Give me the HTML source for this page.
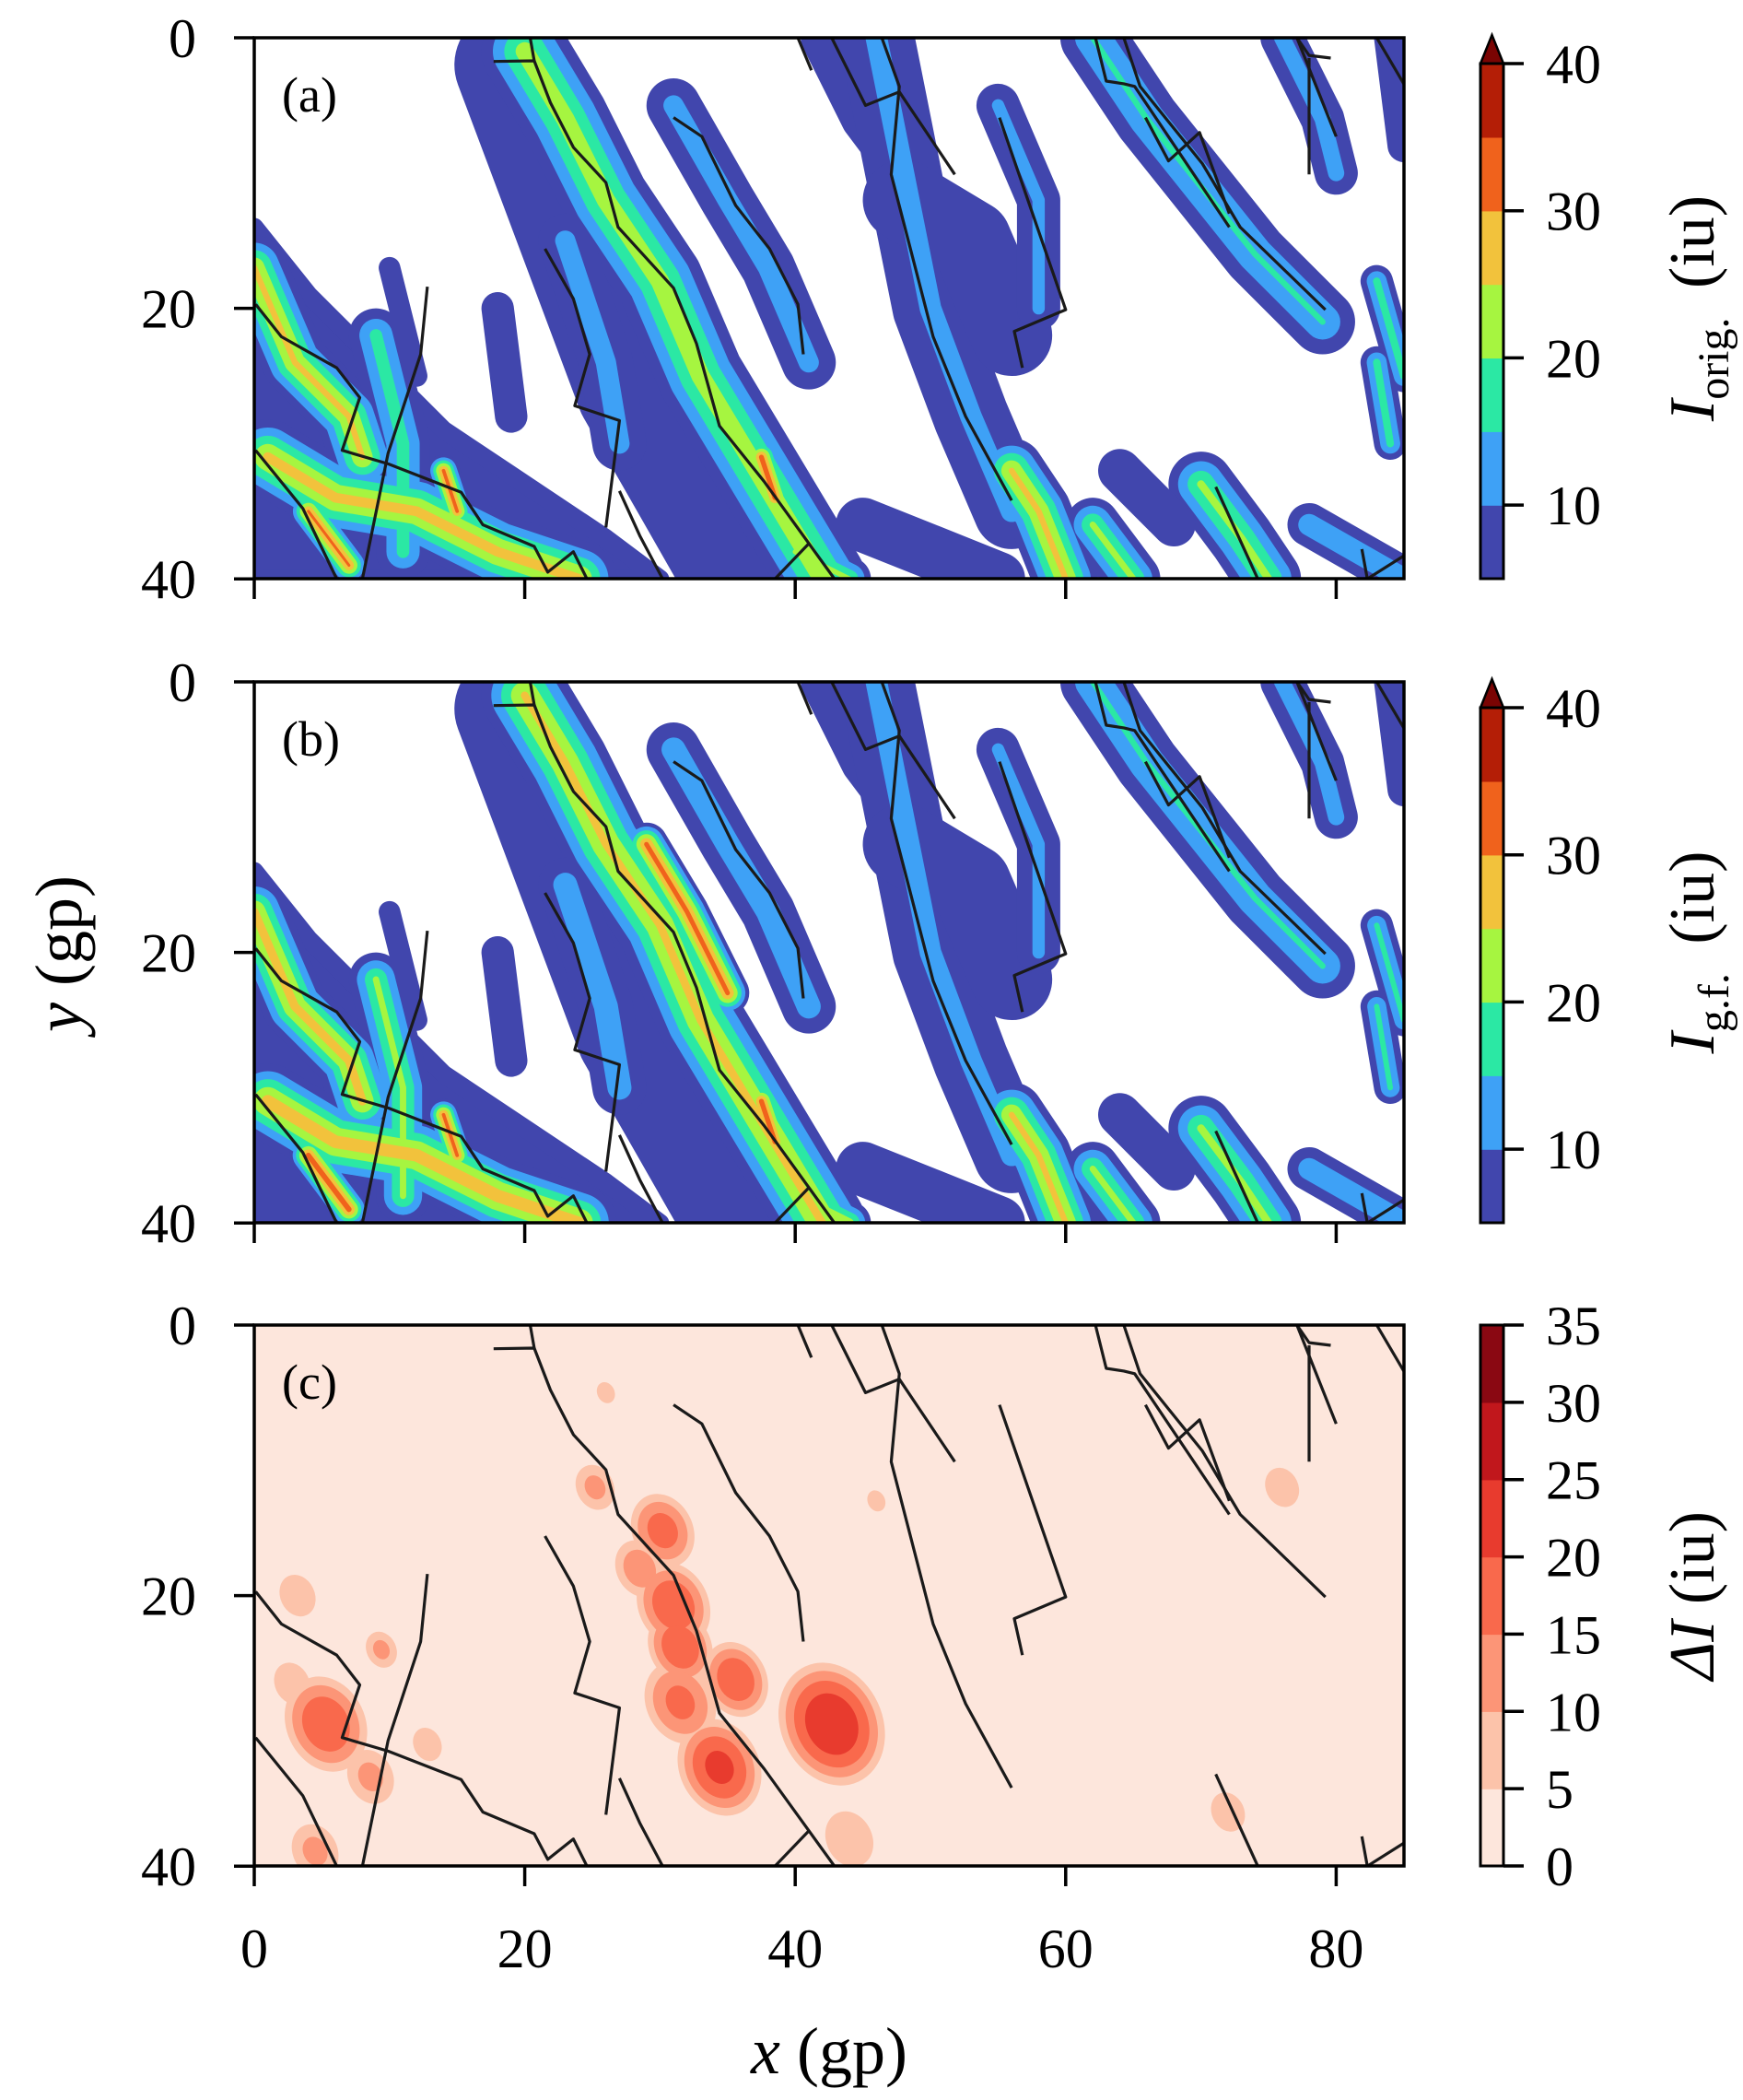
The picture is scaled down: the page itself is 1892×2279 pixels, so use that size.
<!DOCTYPE html>
<html><head><meta charset="utf-8"><style>
html,body{margin:0;padding:0;background:#fff;}
svg{display:block;}
text{font-family:"Liberation Serif",serif;fill:#000;}
</style></head><body>
<svg id="fig" width="1892" height="2279" viewBox="0 0 1892 2279" xmlns="http://www.w3.org/2000/svg">
<defs>
<clipPath id="clipA"><rect x="276" y="41" width="1248" height="587"/></clipPath>
<clipPath id="clipB"><rect x="276" y="740" width="1248" height="587"/></clipPath>
<clipPath id="clipC"><rect x="276" y="1438" width="1248" height="587"/></clipPath>
</defs>
<g id="root"></g>
</svg>
<script>
// ---- data ----
const xTicks = [0, 20, 40, 60, 80];
const yTicks = [0, 20, 40];
const levelsI = [5, 10, 15, 20, 25, 30, 35, 40];
const levelsD = [0, 5, 10, 15, 20, 25, 30, 35];
const cbTicksI = [10, 20, 30, 40];
const cbTicksD = [0, 5, 10, 15, 20, 25, 30, 35];
const regionPts = [[0,14],[4,19],[9,24],[14,29],[20,33],[26,37],[30,40],[0,40]];
const streakPts = [
  [[0,17],[3,24],[7,28],[8,31]],
  [[1,31],[6,34],[12,35],[18,38],[24,40]],
  [[4,35],[7,39]],
  [[14,32],[15,35]],
  [[9,22],[11,30],[11,38]],
  [[19,2],[22,10],[25,18],[28,26],[32,33],[36,40]],
  [[20,1],[23,6],[26,12],[30,18],[33,25],[36,30],[39,35],[42,40]],
  [[37.5,31],[38.5,34]],
  [[23,15],[26,24],[27,30]],
  [[31,5],[35,12],[38,17],[41,24]],
  [[42,0],[45,6],[48,10]],
  [[46,0],[48,10],[50,20],[53,28],[56,35]],
  [[48,12],[53,15],[56,22]],
  [[55,5],[58,12],[58,20]],
  [[62,0],[66,6],[70,11],[74,16],[79,21]],
  [[76,0],[79,6],[80,10]],
  [[83,18],[85,25]],
  [[83,24],[84,30]],
  [[84,0],[85,8]],
  [[56,32],[58,35],[60,40]],
  [[62,36],[65,40]],
  [[70,33],[73,37],[75,40]],
  [[45,36],[50,38],[55,40]],
  [[40,38],[44,40]],
  [[78,36],[85,40]],
  [[18,20],[19,28]],
  [[10,17],[12,25]],
  [[29,12],[32,17],[35,23]],
  [[64,32],[68,36]]
];
const streakW = [2.4,2.8,1.4,1.2,2,4.2,3.2,1.3,2,2,1.6,2.8,3,1.6,2.4,1.6,1.2,1.2,1.2,2.4,2,2.4,2,1.6,1.6,1.2,0.8,1.6,1.6];
const peaksA = [27,28,32,33,18,9,24,34,13,13,9,12,8,12,16,13,18,18,8,27,22,22,8,22,15,9,9,0,9];
const peaksB = [28,29,34,33,22,9,27,34,14,14,9,12,8,12,16,13,17,17,8,27,22,22,8,24,15,9,9,33,9];
const blobX = [25.2,30.2,28.5,31,31.5,35.6,31.5,42.7,34.4,5.3,3.2,9.4,2.8,12.8,8.6,4.5,44,26,46,76,72];
const blobY = [12,15.2,18,20.7,23.8,26.2,27.9,29.5,32.7,29.5,20,24,26.5,31,33.4,38.9,38,5,13,12,36];
const blobR = [1.5,2.2,1.8,2.5,2.2,2.2,2.5,3.5,2.8,2.8,1.5,1.2,1.5,1.2,1.8,1.8,2,1,1,1.5,1.5];
const blobV = [12,18,14,20,20,20,17,25,22,20,10,12,10,10,12,12,10,7,7,9,9];
const ridges = [
  [[0.1,19.7],[2,22.1],[6.1,24.4],[7.8,26.6],[6.5,30.5],[9.9,31.5],[15.3,33.6],[16.9,36],[20.7,37.6],[21.7,39.5],[23.6,38],[24.6,40]],
  [[0.1,30.5],[3.6,34.8],[6.1,40]],
  [[12.8,18.4],[12.3,23.4],[9.9,30.7],[8,40]],
  [[17.7,1.75],[20.7,1.7],[21.9,4.8],[23.6,8.1],[26,10.7],[26.9,14],[31,18.5],[32.7,22.6],[34.4,28.7],[37.7,32.8],[42.9,40]],
  [[20.4,0],[20.7,1.7]],
  [[21.5,15.6],[23.6,19.3],[24.8,23.4],[23.7,27.2],[27,28.3],[26,36.2]],
  [[27,33.5],[28.5,36.8],[30.2,40]],
  [[31,5.9],[33.1,7.3],[35.6,12.4],[38.1,15.6],[40.2,19.7],[40.6,23.4]],
  [[38.5,40],[41,37.4]],
  [[40.2,0],[41.2,2.4]],
  [[42.7,0],[45.2,5],[47.7,4],[51.8,10.1]],
  [[46.4,0],[47.7,3.6],[47.1,10.1],[50.2,22.1],[52.6,28],[56,34.2]],
  [[55.1,5.9],[60,20.1],[56.2,21.7],[56.8,24.4]],
  [[62.2,0],[63,3.2],[64.3,3.4],[65.1,3.6],[72.1,14]],
  [[64.3,0],[65.5,3.6],[70.1,9.3],[72.9,14],[79.2,20.1]],
  [[65.9,5.9],[67.6,9.1],[69.9,7],[72.1,13]],
  [[77.1,0],[78,1.3],[79.6,1.5]],
  [[77.1,0],[80,7.3]],
  [[78,1.5],[78,10.1]],
  [[83,0],[85,3.4]],
  [[71.1,33.2],[74.2,40]],
  [[81.9,37.8],[82.3,40],[85,38.3]]
];
const turbo = ['#4146ad','#3ea1f6','#2be8a4','#a6f540','#f2c23c','#f0621c','#b41e06','#7a0403'];
const reds = ['#fde6dc','#fcc3aa','#fc9577','#f9694c','#e83b2e','#c1171c','#8a0812'];

// ---- helpers ----
const NS = 'http://www.w3.org/2000/svg';
const root = document.getElementById('root');
const U = 14.68, X0 = 276, W = 1248, H = 587;
const sx = x => X0 + x * U;
const mk = (tag, attrs, parent) => { const e = document.createElementNS(NS, tag); for (const k in attrs) e.setAttribute(k, attrs[k]); (parent || root).appendChild(e); return e; };
const toPath = (pts, y0) => pts.map((p, i) => (i ? 'L' : 'M') + sx(p[0]).toFixed(1) + ' ' + (y0 + p[1] * U).toFixed(1)).join(' ');
function bandColor(L) { const i = Math.floor((L - 5) / 5); return turbo[Math.min(i, 7)]; }

function drawIntensityPanel(y0, peaks, clip, name) {
  const g = mk('g', {'clip-path': 'url(#' + clip + ')'});
  
  
  const reg = mk('path', {d: toPath(regionPts, y0) + 'Z', fill: turbo[0], stroke: turbo[0], 'stroke-width': 20, 'stroke-linejoin': 'round'}, g);
  
  
  levelsI.forEach(L => {
    streakPts.forEach((pts, i) => {
      const pk = peaks[i];
      if (pk <= L) return;
      const w = 2 * streakW[i] * U * (pk - L) / (pk - 5);
      const p = mk('path', {d: toPath(pts, y0), fill: 'none', stroke: bandColor(L), 'stroke-width': w.toFixed(1), 'stroke-linecap': 'round', 'stroke-linejoin': 'round'}, g);
      
      
    });
  });
  drawRidges(g, y0);
}
function drawRidges(g, y0) {
  ridges.forEach(r => {
    const p = mk('path', {d: toPath(r, y0), fill: 'none', stroke: '#1a1a1a', 'stroke-width': 3.2, 'stroke-linejoin': 'round'}, g);
    
    
  });
}
function drawDiffPanel(y0) {
  const g = mk('g', {'clip-path': 'url(#clipC)'});
  
  
  const bg = mk('rect', {x: X0, y: y0, width: W, height: H, fill: reds[0]}, g);
  
  
  [5, 10, 15, 20, 25, 30].forEach((L, k) => {
    blobX.forEach((bx, i) => {
      const v = blobV[i];
      if (v <= L) return;
      const r = blobR[i] * U * Math.sqrt((v - L) / v) * 1.5;
      const e = mk('ellipse', {cx: sx(bx), cy: y0 + blobY[i] * U, rx: (r * 0.8).toFixed(1), ry: r.toFixed(1), fill: reds[k + 1], transform: 'rotate(-25 ' + sx(bx) + ' ' + (y0 + blobY[i] * U) + ')'}, g);
      
      
    });
  });
  drawRidges(g, y0);
}
function drawAxes(y0, letter, showXLabels) {
  const f = mk('rect', {x: X0, y: y0, width: W, height: H, fill: 'none', stroke: '#000', 'stroke-width': 3.5});
  
  
  yTicks.forEach(t => {
    const y = y0 + t * U;
    const l = mk('line', {x1: X0 - 22, x2: X0, y1: y, y2: y, stroke: '#000', 'stroke-width': 3.5});
    
    
    const tx = mk('text', {x: 213, y: y + 21, 'font-size': 60, 'text-anchor': 'end'});
    tx.textContent = t;
    
    
  });
  xTicks.forEach(t => {
    const x = sx(t);
    const l = mk('line', {x1: x, x2: x, y1: y0 + H, y2: y0 + H + 22, stroke: '#000', 'stroke-width': 3.5});
    
    
    if (showXLabels) {
      const tx = mk('text', {x: x, y: y0 + H + 110, 'font-size': 60, 'text-anchor': 'middle'});
      tx.textContent = t;
      
      
    }
  });
  const lt = mk('text', {x: 306, y: y0 + 80, 'font-size': 54});
  lt.textContent = '(' + letter + ')';
  
  
}
function drawColorbar(y0, colors, levels, ticks, arrow, labelMain, labelSub, name) {
  const cx = 1607, cw = 25;
  const top = arrow ? y0 + 28 : y0;
  const n = colors.length;
  const bh = (y0 + H - top) / n;
  const g = mk('g', {});
  
  
  colors.forEach((c, i) => {
    const r = mk('rect', {x: cx, y: (y0 + H - (i + 1) * bh).toFixed(1), width: cw, height: (bh + 0.6).toFixed(1), fill: c}, g);
    
    
  });
  if (arrow) {
    const a = mk('path', {d: `M${cx} ${top} L${cx + cw / 2} ${y0 - 3} L${cx + cw} ${top} Z`, fill: turbo[7], stroke: '#000', 'stroke-width': 2.5}, g);
    
    
  }
  const fr = mk('rect', {x: cx, y: top, width: cw, height: y0 + H - top, fill: 'none', stroke: '#000', 'stroke-width': 3}, g);
  
  
  const lo = levels[0], hi = levels[levels.length - 1];
  ticks.forEach(t => {
    const y = y0 + H - (t - lo) / (hi - lo) * (y0 + H - top);
    const l = mk('line', {x1: cx + cw, x2: cx + cw + 22, y1: y, y2: y, stroke: '#000', 'stroke-width': 3.5}, g);
    
    
    const tx = mk('text', {x: 1678, y: y + 21, 'font-size': 60}, g);
    tx.textContent = t;
    
    
  });
  const lbl = mk('text', {x: 0, y: 0, 'font-size': 70, 'text-anchor': 'middle', transform: `translate(1860 ${y0 + H / 2}) rotate(-90)`}, g);
  
  
  const i1 = mk('tspan', {'font-style': 'italic'}, lbl); i1.textContent = labelMain;
  if (labelSub) { const s = mk('tspan', {'font-size': 48, dy: 16}, lbl); s.textContent = labelSub; const s2 = mk('tspan', {dy: -16}, lbl); s2.textContent = '\u2009 (iu)'; }
  else { const s2 = mk('tspan', {}, lbl); s2.textContent = ' (iu)'; }
}

drawIntensityPanel(41, peaksA, 'clipA', 'panel-a');
drawIntensityPanel(740, peaksB, 'clipB', 'panel-b');
drawDiffPanel(1438);
drawAxes(41, 'a', false);
drawAxes(740, 'b', false);
drawAxes(1438, 'c', true);
drawColorbar(41, turbo.slice(0, 7), levelsI, cbTicksI, true, 'I', 'orig.', 'colorbar-a');
drawColorbar(740, turbo.slice(0, 7), levelsI, cbTicksI, true, 'I', 'g.f.', 'colorbar-b');
drawColorbar(1438, reds, levelsD, cbTicksD, false, '\u0394I', '', 'colorbar-c');

const yl = mk('text', {x: 0, y: 0, 'font-size': 72, 'text-anchor': 'middle', transform: 'translate(88 1035) rotate(-90)'});


const ya = mk('tspan', {'font-style': 'italic'}, yl); ya.textContent = 'y';
const yb = mk('tspan', {}, yl); yb.textContent = ' (gp)';
const xl = mk('text', {x: 900, y: 2250, 'font-size': 72, 'text-anchor': 'middle'});


const xa = mk('tspan', {'font-style': 'italic'}, xl); xa.textContent = 'x';
const xb = mk('tspan', {}, xl); xb.textContent = ' (gp)';
</script>
</body></html>
